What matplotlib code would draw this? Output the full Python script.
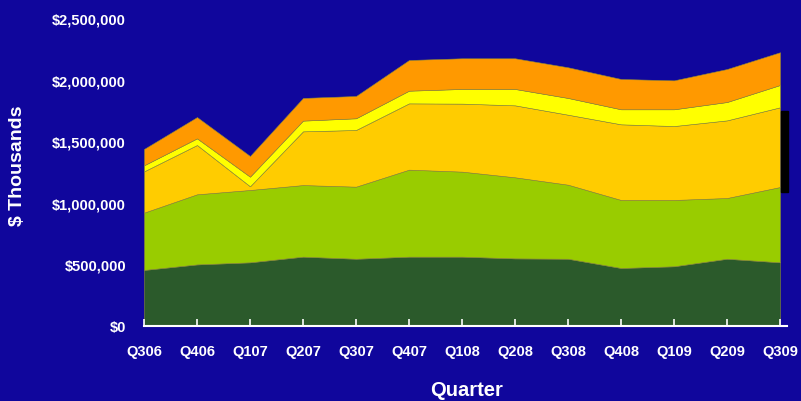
import matplotlib
matplotlib.use("Agg")
from matplotlib import pyplot as plt
from matplotlib.patches import Rectangle
from matplotlib.ticker import FuncFormatter
import numpy as np

BG = "#10069c"
FONT = ["Liberation Sans", "DejaVu Sans"]

quarters = ["Q306", "Q406", "Q107", "Q207", "Q307", "Q407", "Q108",
            "Q208", "Q308", "Q408", "Q109", "Q209", "Q309"]

# layer values, $ thousands
layer1 = [455000, 500000, 517000, 563000, 546000, 563000, 563000, 549000, 546000, 471000, 485000, 546000, 517000]
layer2 = [465000, 569000, 587000, 581000, 585000, 706000, 690000, 658000, 601000, 552000, 538000, 493000, 611000]
layer3 = [335000, 400000, 30000, 436000, 460000, 538000, 552000, 584000, 568000, 614000, 600000, 630000, 647000]
layer4 = [49000, 54000, 78000, 87000, 95000, 103000, 119000, 133000, 136000, 122000, 136000, 149000, 181000]
layer5 = [133000, 173000, 168000, 184000, 181000, 249000, 249000, 249000, 249000, 246000, 235000, 268000, 266000]

colors = ["#2b5a2b", "#99cc00", "#ffcc00", "#ffff00", "#ff9900"]

fig = plt.figure(figsize=(8.01, 4.02), dpi=100, facecolor=BG)
ax = fig.add_axes([144 / 801, 75 / 402, 643 / 801, 308 / 402])
ax.set_facecolor(BG)

x = np.arange(len(quarters))
ax.stackplot(x, layer1, layer2, layer3, layer4, layer5, colors=colors,
             edgecolor="#8a8a3a", linewidth=0.4)

ax.set_xlim(0, 643 / 53)
ax.set_ylim(0, 2500000)
ax.set_xticks(x)
ax.set_xticklabels(quarters)
ax.set_yticks(np.arange(0, 2500001, 500000))
ax.yaxis.set_major_formatter(FuncFormatter(lambda v, p: "${:,.0f}".format(v)))

for s in ["top", "right", "left"]:
    ax.spines[s].set_visible(False)
ax.spines["bottom"].set_color("white")
ax.spines["bottom"].set_linewidth(1.5)
ax.tick_params(axis="x", direction="in", length=5, width=1.2, color="white", pad=13)
ax.tick_params(axis="y", length=0, pad=13)
for lab in ax.get_xticklabels() + ax.get_yticklabels():
    lab.set_color("white")
    lab.set_fontweight("bold")
    lab.set_fontsize(10.5)
    lab.set_family(FONT)

fig.text(18 / 801, 1 - 166 / 402, "$ Thousands", rotation=90, color="white",
         fontsize=14, fontweight="bold", family=FONT, ha="center", va="center")
fig.text(467 / 801, 1 - 391 / 402, "Quarter", color="white",
         fontsize=14.5, fontweight="bold", family=FONT, ha="center", va="center")

# black bar at the right edge
fig.patches.append(Rectangle((781 / 801, 1 - 193 / 402), 7 / 801, 81 / 402,
                             transform=fig.transFigure, color="black"))

fig.savefig("out.png", dpi=100, facecolor=BG)
